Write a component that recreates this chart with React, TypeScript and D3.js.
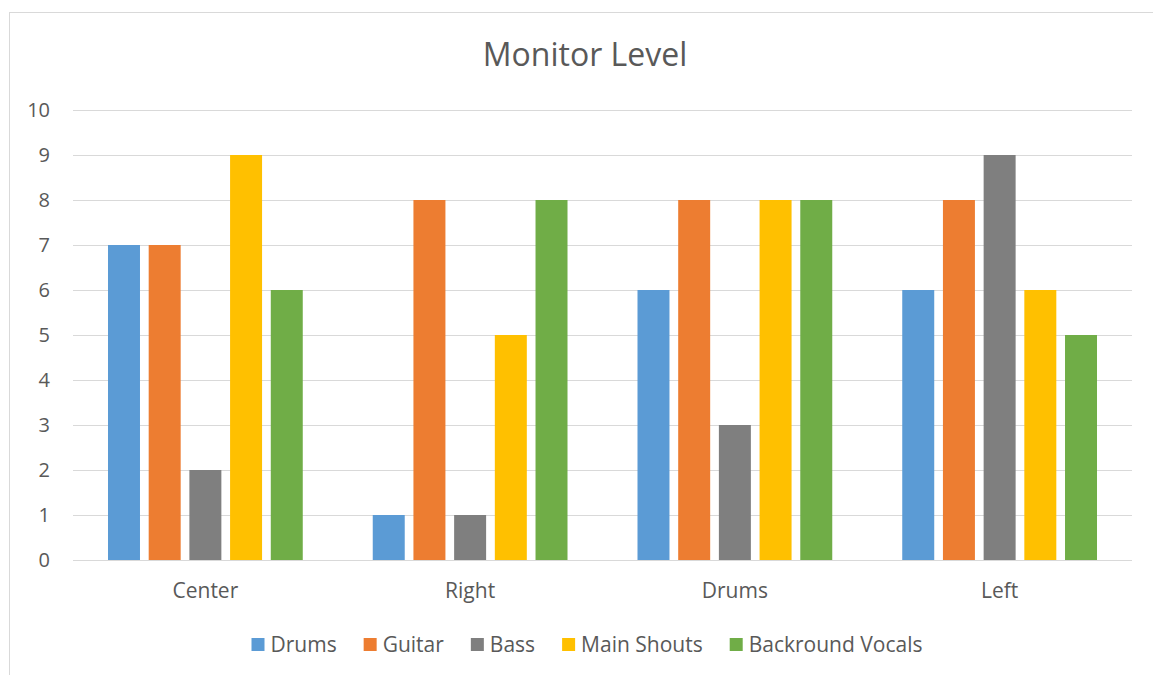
import { useEffect, useRef } from "react";
import * as d3 from "d3";

const categories = ["Center", "Right", "Drums", "Left"];
const seriesNames = ["Drums", "Guitar", "Bass", "Main Shouts", "Backround Vocals"];
const seriesColors = ["#5B9BD5", "#ED7D31", "#7F7F7F", "#FFC000", "#70AD47"];
const drums = [7, 1, 6, 6];
const guitar = [7, 8, 8, 8];
const bass = [2, 1, 3, 9];
const mainShouts = [9, 5, 8, 6];
const backroundVocals = [6, 8, 8, 5];
const yTicks = [0, 1, 2, 3, 4, 5, 6, 7, 8, 9, 10];

const W = 1153;
const H = 675;
const FONT = "'Open Sans', sans-serif";

export default function App() {
  const ref = useRef<SVGSVGElement | null>(null);

  useEffect(() => {
    if (!ref.current) return;
    const svg = d3.select(ref.current);
    svg.selectAll("*").remove();

    const values = [drums, guitar, bass, mainShouts, backroundVocals];
    const left = 73;
    const right = 1132;
    const top = 110;
    const bottom = 560;

    // chart frame (right and bottom edges fall off the page)
    svg
      .append("rect")
      .attr("x", 9.5)
      .attr("y", 12.5)
      .attr("width", W + 20)
      .attr("height", H + 20)
      .attr("fill", "#fff")
      .attr("stroke", "#d9d9d9");

    svg
      .append("text")
      .attr("x", 585)
      .attr("y", 66)
      .attr("text-anchor", "middle")
      .attr("fill", "#595959")
      .style("font-family", FONT)
      .style("font-size", "32px")
      .text("Monitor Level");

    const y = d3.scaleLinear().domain([0, 10]).range([bottom, top]);
    const x0 = d3.scaleBand<string>().domain(categories).range([left, right]);
    const x1 = d3
      .scaleBand<string>()
      .domain(seriesNames)
      .range([0, x0.bandwidth()])
      .paddingInner(0.214)
      .paddingOuter(0.86);

    const grid = svg.append("g");
    grid
      .selectAll("line")
      .data(yTicks)
      .join("line")
      .attr("x1", left)
      .attr("x2", right)
      .attr("y1", (d) => Math.round(y(d)) + 0.5)
      .attr("y2", (d) => Math.round(y(d)) + 0.5)
      .attr("stroke", "#d9d9d9")
      .attr("stroke-width", 1);

    svg
      .append("g")
      .selectAll("text")
      .data(yTicks)
      .join("text")
      .attr("x", 50)
      .attr("y", (d) => y(d))
      .attr("dy", "0.35em")
      .attr("text-anchor", "end")
      .attr("fill", "#595959")
      .style("font-family", FONT)
      .style("font-size", "20px")
      .text((d) => d);

    const groups = svg
      .append("g")
      .selectAll("g")
      .data(categories)
      .join("g")
      .attr("transform", (c) => `translate(${x0(c)},0)`);

    groups
      .selectAll("rect")
      .data((_c, i) => seriesNames.map((s, j) => ({ s, v: values[j][i], j })))
      .join("rect")
      .attr("x", (d) => x1(d.s)!)
      .attr("width", x1.bandwidth())
      .attr("y", (d) => y(d.v))
      .attr("height", (d) => y(0) - y(d.v))
      .attr("fill", (d) => seriesColors[d.j]);

    svg
      .append("g")
      .selectAll("text")
      .data(categories)
      .join("text")
      .attr("x", (c) => x0(c)! + x0.bandwidth() / 2)
      .attr("y", 591)
      .attr("dy", "0.35em")
      .attr("text-anchor", "middle")
      .attr("fill", "#595959")
      .style("font-family", FONT)
      .style("font-size", "21px")
      .text((c) => c);

    // legend
    const legend = svg.append("g");
    const items = legend
      .selectAll("g")
      .data(seriesNames)
      .join("g");
    items
      .append("rect")
      .attr("width", 13)
      .attr("height", 13)
      .attr("y", 638)
      .attr("fill", (_d, i) => seriesColors[i]);
    const labels = items
      .append("text")
      .attr("x", 19)
      .attr("y", 645)
      .attr("dy", "0.35em")
      .attr("fill", "#595959")
      .style("font-family", FONT)
      .style("font-size", "21px")
      .text((d) => d);
    const widths: number[] = [];
    labels.each(function () {
      widths.push((this as SVGTextElement).getComputedTextLength());
    });
    const gap = 27;
    const total = d3.sum(widths) + seriesNames.length * 19 + gap * (seriesNames.length - 1);
    let cx = 587 - total / 2;
    items.attr("transform", (_d, i) => {
      const t = `translate(${cx},0)`;
      cx += 19 + widths[i] + gap;
      return t;
    });
  }, []);

  return (
    <svg
      ref={ref}
      width={W}
      height={H}
      style={{ position: "absolute", left: 0, top: 0, background: "#fff" }}
    />
  );
}
